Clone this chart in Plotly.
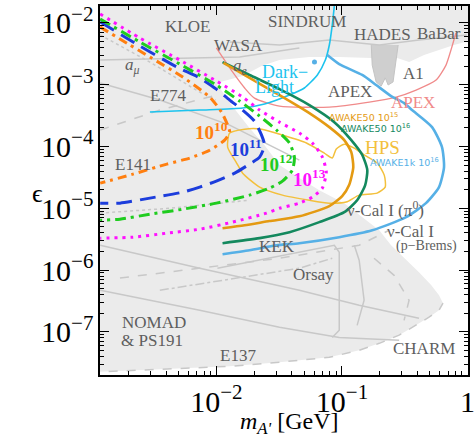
import math
import plotly.graph_objects as go

# ---------------- data: dark photon mass m_A' [GeV] and kinetic mixing epsilon ----------------
# boundary of the allowed (white) region
top_m = [0.0100, 0.0162, 0.0229, 0.0318, 0.055, 0.0951, 0.171, 0.275, 0.342, 0.45, 0.592, 0.778, 1.1]
top_eps = [1.07e-3, 1.38e-3, 2.01e-3, 2.51e-3, 2.81e-3, 2.81e-3, 2.71e-3, 2.71e-3, 2.33e-3, 3.03e-3, 3.65e-3, 4.4e-3, 5.3e-3]
corner_m = [1.1, 0.001, 0.001]
corner_eps = [1e-8, 1e-8, 2.21e-8]
e137_m = [0.001, 0.00355, 0.01277, 0.0318, 0.0793, 0.137, 0.198, 0.285, 0.375, 0.493, 0.592, 0.637]
e137_eps = [2.21e-8, 2.47e-8, 2.76e-8, 3.21e-8, 3.86e-8, 5.0e-8, 6.5e-8, 8.8e-8, 1.23e-7, 1.72e-7, 2.23e-7, 2.9e-7]
dump_m = [0.592, 0.512, 0.410, 0.312, 0.246, 0.198, 0.150, 0.1043, 0.066, 0.0458, 0.0318, 0.0242, 0.01837, 0.0132, 0.0100]
dump_eps = [3.9e-7, 5.7e-7, 9.2e-7, 1.55e-6, 2.52e-6, 4.4e-6, 6.9e-6, 1.21e-5, 1.96e-5, 3.08e-5, 5.0e-5, 1.05e-4, 1.99e-4, 4.69e-4, 1.07e-3]

# A1 / HADES darker bumps
a1_m = [0.171, 0.174, 0.187, 0.205, 0.221, 0.233, 0.255, 0.27, 0.28]
a1_eps = [4.4e-3, 2.08e-3, 1.11e-3, 9.5e-4, 1.29e-3, 9.9e-4, 1.11e-3, 2.33e-3, 4.4e-3]

# gray existing-limit contours (m, eps, dash)
gray_lines = [
    ([1.19e-3, 7.37e-3, 0.0458, 0.137, 0.410], [2.52e-6, 1.07e-6, 4.7e-7, 2.69e-7, 1.66e-7], "solid"),
    ([1.19e-3, 7.37e-3, 0.0318, 0.0951, 0.285], [4.7e-7, 2.23e-7, 1.18e-7, 8.1e-8, 7.3e-8], "solid"),
    ([1.71e-3, 7.37e-3, 0.0318, 0.137, 0.237], [7.4e-7, 1.07e-6, 1.55e-6, 2.52e-6, 4.4e-6], "dash"),
    ([3.55e-3, 0.0153, 0.0458, 0.0837], [4.7e-7, 7.4e-7, 1.07e-6, 1.55e-6], "dashdot"),
    ([0.0102, 0.0869, 0.0951, 0.0951, 0.0837], [1.07e-6, 2.52e-6, 1.94e-6, 1.06e-7, 8.1e-8], "solid"),
    ([0.1253, 0.137, 0.150, 0.132], [2.52e-6, 1.44e-6, 3.24e-7, 1.27e-7], "solid"),
    ([0.180, 0.260, 0.342, 0.312], [1.55e-6, 8.2e-7, 3.24e-7, 1.53e-7], "dash"),
    ([1.19e-3, 3.55e-3, 0.01277, 0.0458], [1.07e-3, 5.65e-4, 2.22e-4, 6.0e-5], "solid"),
    ([1.19e-3, 3.55e-3, 0.0100], [1.85e-4, 3.89e-4, 6.8e-4], "dash"),
    ([1.19e-3, 0.0153, 0.0458], [2.51e-3, 2.81e-3, 3.94e-3], "solid"),
    ([0.01277, 0.0318, 0.0793, 0.198, 0.410, 0.986], [4.92e-3, 4.4e-3, 5.3e-3, 4.4e-3, 5.3e-3, 6.4e-3], "solid"),
    ([1.19e-3, 2.96e-3, 7.37e-3, 9.87e-3], [6.4e-3, 2.33e-3, 7.6e-4, 5.65e-4], "dot"),
    ([1.19e-3, 4.27e-3, 0.0184], [8.34e-6, 1.0e-5, 1.35e-5], "dot"),
]

# projections for N electrons on target
n10_m = [0.00119, 0.00205, 0.00296, 0.0054, 0.00885, 0.0110, 0.0123, 0.01277, 0.01164, 0.00885, 0.00614, 0.00404, 0.00217, 0.00119]
n10_eps = [8.6e-3, 4.4e-3, 2.81e-3, 1.33e-3, 6.32e-4, 3.61e-4, 2.22e-4, 1.71e-4, 1.27e-4, 8.7e-5, 6.5e-5, 5.19e-5, 3.57e-5, 2.55e-5]
n11_m = [0.00119, 0.00246, 0.00484, 0.00737, 0.0100, 0.01277, 0.0162, 0.0201, 0.0229, 0.0242, 0.0221, 0.01837, 0.0140, 0.0100, 0.00737, 0.0054, 0.00296, 0.00171, 0.00119]
n11_eps = [1.04e-2, 4.24e-3, 1.94e-3, 1.29e-3, 8.5e-4, 5.65e-4, 3.89e-4, 2.58e-4, 1.53e-4, 1.05e-4, 6.73e-5, 5.19e-5, 3.7e-5, 2.75e-5, 2.2e-5, 1.82e-5, 1.46e-5, 1.21e-5, 1.21e-5]
n12_m = [0.00119, 0.00246, 0.00511, 0.0100, 0.0153, 0.0221, 0.0301, 0.0382, 0.0418, 0.0403, 0.0336, 0.0265, 0.01837, 0.0100, 0.0054, 0.00296, 0.00171, 0.00119]
n12_eps = [1.16e-2, 4.92e-3, 2.16e-3, 9.9e-4, 5.45e-4, 3.11e-4, 1.85e-4, 1.14e-4, 6.73e-5, 4.15e-5, 2.75e-5, 2.12e-5, 1.63e-5, 1.21e-5, 9.66e-6, 8.0e-6, 6.65e-6, 6.4e-6]
n13_m = [0.00119, 0.00246, 0.00511, 0.0100, 0.0162, 0.0221, 0.0318, 0.0458, 0.0581, 0.0698, 0.075, 0.0698, 0.0581, 0.0458, 0.0318, 0.0251, 0.01346, 0.00737, 0.00404, 0.00217, 0.00119]
n13_eps = [1.40e-2, 5.71e-3, 2.51e-3, 1.15e-3, 6.32e-4, 3.89e-4, 2.48e-4, 1.65e-4, 1.14e-4, 6.73e-5, 3.85e-5, 2.12e-5, 1.51e-5, 1.21e-5, 1.0e-5, 8.34e-6, 5.96e-6, 4.58e-6, 3.95e-6, 3.4e-6, 3.28e-6]

# AWAKE sensitivities
aw50_15_m = [0.0114, 0.01837, 0.0318, 0.055, 0.0793, 0.1043, 0.1186, 0.123, 0.114, 0.1004, 0.0793, 0.0458, 0.0265, 0.0168, 0.0112]
aw50_15_eps = [2.25e-3, 1.29e-3, 6.8e-4, 3.48e-4, 2.06e-4, 1.27e-4, 8.1e-5, 4.63e-5, 2.37e-5, 1.57e-5, 1.08e-5, 7.4e-6, 6.2e-6, 5.3e-6, 4.75e-6]
aw50_16_m = [0.0112, 0.01837, 0.0318, 0.055, 0.0869, 0.1186, 0.145, 0.159, 0.153, 0.132, 0.1043, 0.066, 0.0382, 0.0221, 0.0112]
aw50_16_eps = [2.33e-3, 1.44e-3, 8.5e-4, 4.69e-4, 2.48e-4, 1.27e-4, 7.3e-5, 4.15e-5, 2.37e-5, 1.35e-5, 8.65e-6, 5.96e-6, 4.1e-6, 3.28e-6, 2.72e-6]
aw1k_16_m = [0.0764, 0.0951, 0.145, 0.187, 0.246, 0.312, 0.361, 0.521, 0.625, 0.649, 0.592, 0.466, 0.324, 0.174, 0.0951, 0.0458, 0.0301, 0.01837, 0.0112]
aw1k_16_eps = [3.03e-3, 2.16e-3, 1.44e-3, 9.9e-4, 6.56e-4, 5.05e-4, 3.89e-4, 2.06e-4, 9.77e-5, 4.63e-5, 2.2e-5, 1.21e-5, 7.18e-6, 4.4e-6, 3.4e-6, 2.72e-6, 2.52e-6, 2.09e-6, 1.8e-6]
aw1k_dot_m = [0.0604]
aw1k_dot_eps = [2.33e-3]

# other experiments
hps_m = [0.01277, 0.0168, 0.0229, 0.0336, 0.0521, 0.0723, 0.0837, 0.0901, 0.1043, 0.1253, 0.150, 0.1905, 0.217, 0.2208, 0.1905, 0.137, 0.108, 0.0793, 0.055, 0.0336, 0.0221, 0.0162, 0.0145, 0.0123, 0.01277]
hps_eps = [1.65e-4, 1.91e-4, 1.91e-4, 1.53e-4, 1.14e-4, 7.8e-5, 6.5e-5, 9.1e-5, 1.09e-4, 9.4e-5, 7.3e-5, 5.4e-5, 3.44e-5, 2.2e-5, 1.76e-5, 1.63e-5, 1.26e-5, 1.21e-5, 1.35e-5, 1.63e-5, 2.2e-5, 3.7e-5, 5.4e-5, 9.8e-5, 1.65e-4]
darklight_m = [0.00296, 0.00737, 0.0162, 0.0242, 0.0382, 0.0502, 0.0637, 0.0737, 0.0793, 0.0837, 0.0869]
darklight_eps = [3.61e-4, 3.89e-4, 4.19e-4, 4.86e-4, 6.8e-4, 8.85e-4, 1.44e-3, 2.51e-3, 4.4e-3, 9.3e-3, 1.88e-2]
apex_m = [0.0100, 0.01346, 0.0168, 0.0201, 0.0318, 0.0793, 0.165, 0.27, 0.389, 0.561, 0.673, 0.737, 0.807]
apex_eps = [3.94e-3, 1.61e-3, 8.85e-4, 6.08e-4, 4.52e-4, 4.35e-4, 5.25e-4, 6.32e-4, 8.2e-4, 1.19e-3, 2.08e-3, 3.65e-3, 6.89e-3]

# ---------------- figure ----------------
fig = go.Figure()

white_m = top_m + corner_m + e137_m + dump_m
white_eps = top_eps + corner_eps + e137_eps + dump_eps
fig.add_trace(go.Scatter(x=white_m, y=white_eps, mode="lines", fill="toself",
                         fillcolor="white", line=dict(width=0), hoverinfo="skip"))
fig.add_trace(go.Scatter(x=a1_m, y=a1_eps, mode="lines", fill="toself",
                         fillcolor="#cfcfcf", line=dict(width=1, color="#c4c4c4"), hoverinfo="skip"))

GRAY = "#c8c8c8"
for gm, ge, dash in gray_lines:
    fig.add_trace(go.Scatter(x=gm, y=ge, mode="lines",
                             line=dict(color=GRAY, width=1.5, dash=dash), hoverinfo="skip"))
fig.add_trace(go.Scatter(x=e137_m, y=e137_eps, mode="lines",
                         line=dict(color=GRAY, width=1.5, dash="dash"), hoverinfo="skip"))


def curve(m, e, color, width, dash="solid", shape="spline"):
    fig.add_trace(go.Scatter(x=m, y=e, mode="lines",
                             line=dict(color=color, width=width, dash=dash, shape=shape, smoothing=0.6),
                             hoverinfo="skip"))


curve(apex_m, apex_eps, "#f08a8a", 1.3)
curve(darklight_m, darklight_eps, "#1cc3ee", 1.6)
curve(hps_m, hps_eps, "#f3c03c", 1.5)
curve(n10_m, n10_eps, "#ff7f10", 3, "9px,5px,3px,5px")
curve(n11_m, n11_eps, "#1c3ddc", 3, "16px,8px")
curve(n12_m, n12_eps, "#1fcc1f", 3, "11px,5px,3px,5px")
curve(n13_m, n13_eps, "#ff10ff", 3, "3px,5px")
curve(aw1k_16_m, aw1k_16_eps, "#56b0e6", 2.6)
curve(aw50_16_m, aw50_16_eps, "#14895e", 2.6)
curve(aw50_15_m, aw50_15_eps, "#e49a12", 2.6)
fig.add_trace(go.Scatter(x=aw1k_dot_m, y=aw1k_dot_eps, mode="markers",
                         marker=dict(color="#56b0e6", size=5), hoverinfo="skip"))

SERIF = "Liberation Serif"
SANS = "DejaVu Sans"
LBL = "#5e5e5e"
anns = []


def ann(text, lx, ly, color=LBL, size=17, family=SERIF):
    anns.append(dict(text=text, x=lx, y=ly, xref="x", yref="y", showarrow=False,
                     xanchor="center", yanchor="middle",
                     font=dict(family=family, size=size, color=color)))


ann("KLOE", -2.228, -2.049)
ann("WASA", -1.823, -2.357)
ann("SINDRUM", -1.275, -1.968)
ann("HADES", -0.680, -2.194)
ann("BaBar", -0.228, -2.178)
ann("A1", -0.434, -2.810)
ann("APEX", -0.934, -3.102)
ann("APEX", -0.434, -3.285, color="#f08a8a")
ann("AWAKE50 10<sup>15</sup>", -0.831, -3.530, color="#e49a12", size=9.5, family=SANS)
ann("AWAKE50 10<sup>16</sup>", -0.736, -3.700, color="#14895e", size=9.5, family=SANS)
ann("HPS", -0.680, -4.020, color="#f3c03c", size=19)
ann("AWAKE1k 10<sup>16</sup>", -0.506, -4.245, color="#56b0e6", size=9.5, family=SANS)
ann("ν-Cal I (π<sup>0</sup>)", -0.657, -5.015)
ann("ν-Cal I", -0.458, -5.371)
ann("(p−Brems)", -0.331, -5.614, size=14)
ann("KEK", -1.521, -5.614)
ann("Orsay", -1.228, -6.068)
ann("NOMAD", -2.498, -6.846)
ann("& PS191", -2.514, -7.138)
ann("E137", -1.831, -7.381)
ann("CHARM", -0.347, -7.267)
ann("E774", -2.387, -3.167)
ann("E141", -2.664, -4.285)
ann("<i>a<sub>μ</sub></i>", -2.664, -2.697)
ann("<i>a<sub>e</sub></i>", -1.807, -2.713)
ann("Dark−", -1.450, -2.795, color="#1cc3ee", size=18)
ann("Light", -1.537, -3.035, color="#1cc3ee", size=18)
ann("<b>10<sup>10</sup></b>", -2.037, -3.750, color="#ff7f10", size=19)
ann("<b>10<sup>11</sup></b>", -1.767, -4.026, color="#1c3ddc", size=19)
ann("<b>10<sup>12</sup></b>", -1.521, -4.269, color="#1fcc1f", size=19)
ann("<b>10<sup>13</sup></b>", -1.260, -4.512, color="#ff10ff", size=19)

anns.append(dict(text="<i>m</i><sub><i>A'</i></sub> [GeV]", x=0.516, y=-0.130, xref="paper", yref="paper",
                 xanchor="center", yanchor="middle",
                 showarrow=False, font=dict(family=SERIF, size=24, color="black")))
anns.append(dict(text="ϵ", x=-0.171, y=0.493, xref="paper", yref="paper",
                 xanchor="center", yanchor="middle",
                 showarrow=False, font=dict(family=SERIF, size=26, color="black")))

axis_common = dict(type="log", dtick=1, exponentformat="power", showgrid=False, zeroline=False,
                   showline=True, linecolor="black", linewidth=1.5, mirror="allticks",
                   ticks="inside", ticklen=9, tickwidth=1.2, tickcolor="black", automargin=False,
                   ticklabeloverflow="allow",
                   tickfont=dict(family=SERIF, size=24, color="black"),
                   minor=dict(ticks="inside", ticklen=4, tickwidth=1, tickcolor="black", dtick="D1", showgrid=False))

fig.update_layout(
    width=474, height=439,
    margin=dict(l=100, r=6, t=6, b=64, autoexpand=False),
    paper_bgcolor="white", plot_bgcolor="#ebebeb",
    showlegend=False,
    xaxis=dict(range=[-2.926, 0.003], **axis_common),
    yaxis=dict(range=[-7.70, -1.725], **axis_common),
    annotations=anns,
)

fig.write_html("out.html", config={"displayModeBar": False},
               post_script="document.body.style.margin='0';document.body.style.padding='0';")
